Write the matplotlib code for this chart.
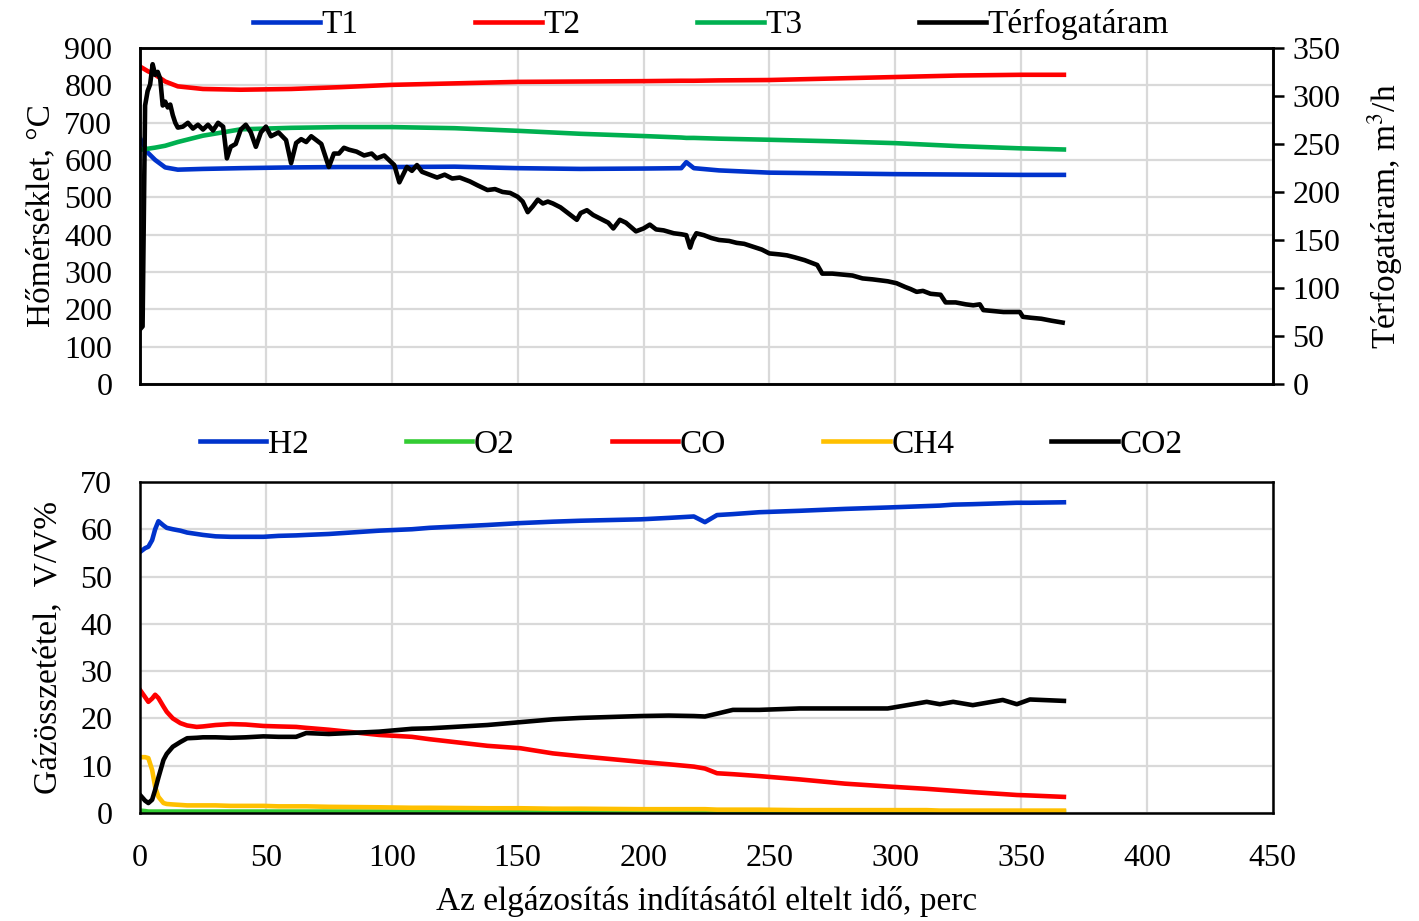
"""Gasification run: temperatures, volume flow and gas composition."""
import matplotlib.pyplot as plt
from matplotlib.lines import Line2D

plt.rcParams['font.family'] = ['Liberation Serif', 'DejaVu Serif']
plt.rcParams['mathtext.fontset'] = 'stix'

# --- top panel: temperatures (°C) ---
t_temp = [0, 3, 6, 10, 15, 25, 40, 60, 80, 100, 125, 150, 175, 200, 215, 217, 220,
          230, 250, 275, 300, 325, 350, 367]
T1 = [658, 620, 600, 580, 574, 576, 578, 580, 581, 581, 582, 578, 576, 577, 578, 594,
      578, 572, 566, 564, 562, 561, 560, 560]
T2 = [850, 838, 828, 810, 797, 790, 788, 790, 795, 801, 805, 809, 810, 811, 812, 812,
      812, 813, 814, 818, 822, 826, 828, 828]
T3 = [627, 630, 633, 638, 648, 665, 682, 686, 688, 688, 685, 678, 670, 664, 660, 659,
      659, 657, 654, 650, 645, 637, 631, 628]

# --- top panel: volume flow (m3/h) ---
t_flow = [0, 1, 2, 3, 4, 5, 6, 7, 8, 9, 10, 11, 12, 13, 14, 15, 17, 19, 21, 23, 25, 27,
          29, 31, 33, 34.5, 36, 38, 40, 42, 44, 46, 48, 50, 52, 55, 58, 60, 62, 64, 66,
          68, 70, 72, 75, 77, 79, 81, 83, 86, 89, 92, 94, 97, 99, 101, 103, 106, 108,
          110, 112, 115, 118, 121, 124, 127, 131, 134, 138, 141, 144, 147, 150, 152,
          154, 156, 158, 160, 162, 164, 167, 170, 173.5, 175, 177.5, 180, 183, 186, 188,
          190.6, 193, 197, 200, 202.5, 205, 208, 212, 215, 217, 218.5, 219.5, 221, 224,
          227, 230, 234, 237, 240, 243.5, 247, 250, 254, 257, 260, 264, 267, 269, 271,
          275, 279, 283, 287, 291, 294, 297, 300.5, 304, 306, 308.5, 311, 314, 318, 320,
          324, 328, 331, 333.6, 335, 339, 343, 347, 349.5, 350.7, 354, 358, 362, 366.5]
flow = [57, 60, 290, 305, 312, 333, 322, 325, 318, 290, 294, 288, 291, 280, 272, 267,
        268, 272, 266, 270, 265, 270, 264, 272, 268, 235, 247, 250, 265, 270, 262, 247,
        262, 268, 258, 262, 254, 230, 251, 255, 252, 258, 254, 250, 226, 240, 240, 246,
        244, 242, 238, 240, 235, 238, 233, 228, 210, 226, 222, 228, 221, 218, 215, 218,
        214, 215, 211, 207, 202, 203, 200, 199, 195, 190, 179, 185, 192, 188, 190, 188,
        184, 178, 171, 178, 181, 176, 172, 168, 162, 171, 168, 159, 162, 166, 161, 160,
        157, 156, 155, 142, 150, 157, 155, 152, 150, 149, 147, 146, 143, 140, 136, 135,
        134, 132, 129, 126, 124, 115, 115, 114, 113, 110, 109, 108, 107, 105, 101, 99,
        96, 97, 94, 93, 85, 85, 83, 82, 83, 77, 76, 75, 75, 75, 70, 69, 68, 66, 64]

# --- bottom panel: gas composition (V/V%) ---
t_gas = [0, 2, 3.3, 4.8, 6, 7.3, 9.3, 10.6, 13, 16, 18.7, 22.5, 25, 30, 36, 42, 49,
         55, 62, 66, 75, 95, 108, 115, 138, 151, 164, 175, 199, 210, 220, 224.4, 229.2,
         235.5, 246, 262, 280, 297, 312.5, 317.7, 323, 330.8, 342.7, 348.3, 353.5, 367]
H2 = [55.2, 56.0, 56.3, 57.7, 60.0, 61.7, 60.8, 60.3, 60.0, 59.7, 59.3, 59.0, 58.8,
      58.5, 58.4, 58.4, 58.4, 58.6, 58.7, 58.8, 59.0, 59.7, 60.0, 60.3, 60.9, 61.3,
      61.6, 61.8, 62.1, 62.4, 62.7, 61.5, 63.0, 63.2, 63.6, 63.9, 64.3, 64.6, 64.9,
      65.0, 65.2, 65.3, 65.5, 65.6, 65.6, 65.7]
CO = [26.0, 24.5, 23.5, 24.2, 25.0, 24.3, 22.5, 21.4, 20.0, 19.0, 18.5, 18.2, 18.3,
      18.6, 18.8, 18.7, 18.4, 18.3, 18.2, 18.0, 17.6, 16.5, 16.1, 15.6, 14.2, 13.7,
      12.6, 12.0, 10.8, 10.3, 9.8, 9.4, 8.4, 8.2, 7.8, 7.1, 6.2, 5.6, 5.1, 4.9, 4.7,
      4.4, 4.0, 3.8, 3.7, 3.4]
CH4 = [11.8, 11.8, 11.6, 9.1, 5.5, 3.4, 2.1, 1.9, 1.8, 1.7, 1.6, 1.6, 1.6, 1.6, 1.5,
       1.5, 1.5, 1.4, 1.4, 1.4, 1.3, 1.2, 1.1, 1.1, 1.0, 1.0, 0.9, 0.9, 0.8, 0.8, 0.8,
       0.8, 0.7, 0.7, 0.7, 0.6, 0.6, 0.6, 0.6, 0.5, 0.5, 0.5, 0.5, 0.5, 0.5, 0.5]
O2 = [0.5, 0.4, 0.3, 0.3, 0.3, 0.3, 0.3, 0.3, 0.3, 0.3, 0.3, 0.3, 0.3, 0.3, 0.3, 0.3,
      0.3, 0.3, 0.3, 0.3, 0.3, 0.3, 0.3, 0.3, 0.3, 0.3, 0.3, 0.3, 0.3, 0.3, 0.3, 0.3,
      0.3, 0.3, 0.3, 0.3, 0.3, 0.3, 0.3, 0.3, 0.3, 0.3, 0.3, 0.3, 0.3, 0.3]
CO2 = [3.8, 2.6, 2.1, 2.8, 4.9, 7.5, 11.2, 12.5, 14.0, 15.0, 15.8, 15.9, 16.0, 16.0,
       15.9, 16.0, 16.2, 16.1, 16.1, 16.9, 16.7, 17.2, 17.8, 17.9, 18.6, 19.2, 19.8,
       20.1, 20.5, 20.6, 20.5, 20.4, 21.0, 21.8, 21.8, 22.1, 22.1, 22.1, 23.5, 23.0,
       23.5, 22.8, 23.9, 23.0, 24.0, 23.7]

BLUE = '#0033cc'
RED = '#ff0000'
GREEN = '#00b050'
LGREEN = '#33cc33'
YELLOW = '#ffc000'
GRID = '#d9d9d9'
FS = 23
LW = 3.3

fig = plt.figure(figsize=(14.19, 9.21), dpi=100)
ax1 = fig.add_axes([0.0987, 0.583, 0.7983, 0.365])
ax2 = fig.add_axes([0.0987, 0.1173, 0.7983, 0.3594])


def style(ax):
    ax.set_xlim(0, 450)
    ax.set_xticks(range(0, 451, 50))
    ax.grid(True, color=GRID, linewidth=1.6)
    ax.set_axisbelow(True)
    for s in ax.spines.values():
        s.set_linewidth(1.8)
    ax.tick_params(axis='both', length=0, labelsize=FS)
    ax.tick_params(axis='y', pad=20)


# top panel
style(ax1)
ax1.plot(t_temp, T1, color=BLUE, lw=LW)
ax1.plot(t_temp, T2, color=RED, lw=LW)
ax1.plot(t_temp, T3, color=GREEN, lw=LW)
ax1.set_ylim(0, 900)
ax1.set_yticks(range(0, 901, 100))
ax1.tick_params(axis='x', labelbottom=False)
ax1.set_ylabel('Hőmérséklet, °C', fontsize=FS + 1, labelpad=6)

ax1r = ax1.twinx()
ax1r.plot(t_flow, flow, color='black', lw=LW)
ax1r.set_ylim(0, 350)
ax1r.set_yticks(range(0, 351, 50))
ax1r.tick_params(axis='y', direction='out', length=8, width=1.8, labelsize=FS, pad=6)
for s in ax1r.spines.values():
    s.set_linewidth(1.8)
ax1r.set_ylabel('Térfogatáram, m$^3$/h', fontsize=FS + 1, labelpad=18)

top_handles = [Line2D([], [], color=c, lw=LW) for c in (BLUE, RED, GREEN, 'black')]
fig.legend(top_handles, ['T1', 'T2', 'T3', 'Térfogatáram'], loc='center',
           bbox_to_anchor=(0.501, 0.973), ncol=4, frameon=False, fontsize=FS + 1,
           handlelength=2.0, handletextpad=0.05, columnspacing=3.5)

# bottom panel
style(ax2)
ax2.plot(t_gas, O2, color=LGREEN, lw=LW)
ax2.plot(t_gas, CH4, color=YELLOW, lw=LW)
ax2.plot(t_gas, CO, color=RED, lw=LW)
ax2.plot(t_gas, CO2, color='black', lw=LW)
ax2.plot(t_gas, H2, color=BLUE, lw=LW)
ax2.set_ylim(0, 70)
ax2.set_yticks(range(0, 71, 10))
ax2.tick_params(axis='x', pad=22)
ax2.set_ylabel('Gázösszetétel,  V/V%', fontsize=FS + 1, labelpad=12)
ax2.set_xlabel('Az elgázosítás indításától eltelt idő, perc', fontsize=FS + 1, labelpad=10)

bot_handles = [Line2D([], [], color=c, lw=LW) for c in (BLUE, LGREEN, RED, YELLOW, 'black')]
fig.legend(bot_handles, ['H2', 'O2', 'CO', 'CH4', 'CO2'], loc='center',
           bbox_to_anchor=(0.487, 0.517), ncol=5, frameon=False, fontsize=FS + 1,
           handlelength=2.0, handletextpad=0.05, columnspacing=2.9)

fig.savefig('out.png', dpi=100)
